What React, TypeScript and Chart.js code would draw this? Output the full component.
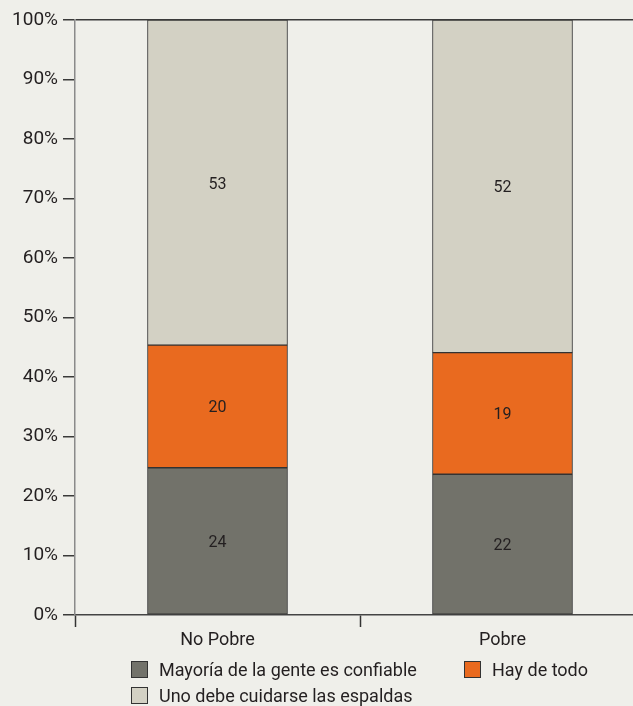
import React, { useEffect, useRef } from "react";
import { Chart, registerables } from "chart.js";

Chart.register(...registerables);

const categories = ["No Pobre", "Pobre"];
const seriesNames = [
  "Mayoría de la gente es confiable",
  "Hay de todo",
  "Uno debe cuidarse las espaldas",
];
const confiable = [24, 22];
const hayDeTodo = [20, 19];
const espaldas = [53, 52];
const yTickValues = [0, 10, 20, 30, 40, 50, 60, 70, 80, 90, 100];

const seriesValues = [confiable, hayDeTodo, espaldas];
const seriesColors = ["#72726a", "#e96a1f", "#d3d1c4"];
const FONT = "Roboto, 'Noto Sans', sans-serif";
const TEXT = "#231f20";

const totals = categories.map((_, i) =>
  seriesValues.reduce((s, arr) => s + arr[i], 0)
);

const valueLabels = {
  id: "valueLabels",
  afterDatasetsDraw(chart: any) {
    const ctx = chart.ctx;
    ctx.save();
    ctx.font = `16px ${FONT}`;
    ctx.fillStyle = TEXT;
    ctx.textAlign = "center";
    ctx.textBaseline = "middle";
    chart.data.datasets.forEach((ds: any, di: number) => {
      const meta = chart.getDatasetMeta(di);
      meta.data.forEach((bar: any, i: number) => {
        const y = (bar.y + bar.base) / 2 + 2;
        ctx.fillText(String(ds.rawValues[i]), bar.x, y);
      });
    });
    ctx.restore();
  },
};

export default function App() {
  const ref = useRef<HTMLCanvasElement | null>(null);

  useEffect(() => {
    if (!ref.current) return;
    const chart = new Chart(ref.current, {
      type: "bar",
      data: {
        labels: categories,
        datasets: seriesValues.map((vals, si) => ({
          label: seriesNames[si],
          data: vals.map((v, i) => (v / totals[i]) * 100),
          rawValues: vals,
          backgroundColor: seriesColors[si],
          borderColor: "#333333",
          borderWidth: 1,
          borderSkipped: false,
          barThickness: 140,
        })) as any,
      },
      options: {
        responsive: false,
        animation: false,
        devicePixelRatio: 1,
        layout: { padding: { top: 20, right: 15, left: 0, bottom: 0 } },
        plugins: {
          legend: { display: false },
          tooltip: { enabled: false },
        },
        scales: {
          x: {
            stacked: true,
            afterFit: (s: any) => {
              s.height = 45;
            },
            grid: {
              offset: true,
              drawOnChartArea: false,
              tickLength: 12,
              tickColor: "#333333",
              tickWidth: 1.5,
            },
            border: { color: "#444444", width: 1.5 },
            ticks: {
              padding: 3,
              color: TEXT,
              font: { family: FONT, size: 18 },
            },
          },
          y: {
            stacked: true,
            min: 0,
            max: 100,
            afterFit: (s: any) => {
              s.width = 75;
            },
            afterBuildTicks: (s: any) => {
              s.ticks = yTickValues.map((v) => ({ value: v }));
            },
            grid: {
              drawOnChartArea: true,
              color: (c: any) =>
                c.tick && c.tick.value === 100 ? "#3a3a3a" : "rgba(0,0,0,0)",
              lineWidth: 1.5,
              tickLength: 12,
              tickColor: "#3a3a3a",
              tickWidth: 1.5,
            },
            border: { color: "#8a8a8a", width: 1.5 },
            ticks: {
              padding: 5,
              color: TEXT,
              font: { family: FONT, size: 19 },
              callback: (v: any) => `${v}%`,
            },
          },
        },
      },
      plugins: [valueLabels],
    });
    return () => chart.destroy();
  }, []);

  const legendItems = [
    { i: 0, left: 131, top: 660 },
    { i: 1, left: 464, top: 660 },
    { i: 2, left: 131, top: 686 },
  ];

  return (
    <div
      style={{
        position: "fixed",
        left: 0,
        top: 0,
        width: 633,
        height: 706,
        overflow: "hidden",
        background: "#efefea",
      }}
    >
      <canvas
        ref={ref}
        width={660}
        height={660}
        style={{ display: "block", width: 660, height: 660 }}
      />
      {legendItems.map((it) => (
        <div
          key={it.i}
          style={{
            position: "absolute",
            left: it.left,
            top: it.top,
            height: 18,
            display: "flex",
            alignItems: "center",
            fontFamily: FONT,
            fontSize: 18,
            color: TEXT,
            whiteSpace: "nowrap",
          }}
        >
          <span
            style={{
              display: "inline-block",
              width: 15,
              height: 15,
              background: seriesColors[it.i],
              border: "1px solid #333",
              marginRight: 11,
            }}
          />
          <span>{seriesNames[it.i]}</span>
        </div>
      ))}
    </div>
  );
}
